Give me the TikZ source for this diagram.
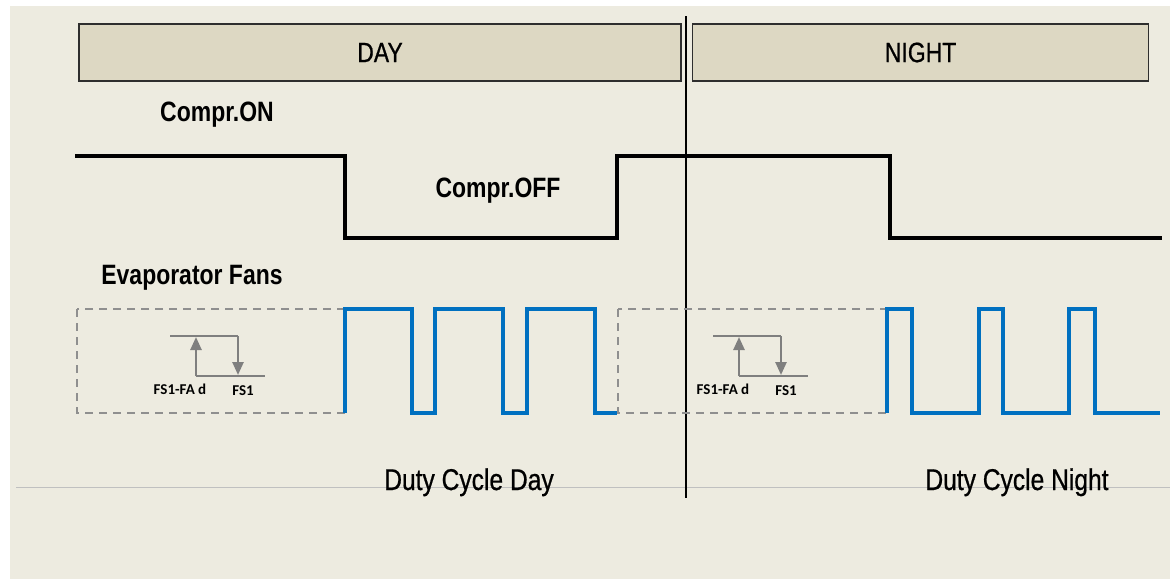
\documentclass[tikz,border=0pt]{standalone}
\usepackage{fontspec}
\setmainfont{Liberation Sans}[FakeStretch=0.82]
\newfontfamily\capfont{Liberation Sans}[FakeStretch=0.82, FakeBold=0.7]
\newfontfamily\tagfont{Carlito}
\usepackage{tikz}
\usetikzlibrary{positioning, arrows.meta}
\definecolor{cBack}{HTML}{EDEBE0}
\definecolor{cHeader}{HTML}{DDD8C3}
\definecolor{cFrame}{HTML}{2E2E2E}
\definecolor{cFan}{HTML}{0070C0}
\definecolor{cDash}{HTML}{8F8F8F}
\definecolor{cHyst}{HTML}{7F7F7F}
\definecolor{cRule}{HTML}{C0C0C0}
\tikzset{
  header/.style={
    rectangle, draw=cFrame, line width=1.6pt, fill=cHeader,
    minimum height=57pt, inner sep=0pt,
    font=\capfont\fontsize{28}{32}\selectfont
  },
  title/.style={anchor=base, inner sep=0pt, font=\fontsize{28}{32}\selectfont\bfseries},
  caption/.style={anchor=base, inner sep=0pt, font=\capfont\fontsize{30}{34}\selectfont},
  tag/.style={anchor=base, inner sep=0pt, font=\tagfont\fontsize{15}{17}\selectfont\bfseries},
  compr/.style={line width=4pt, line join=miter, black},
  fan/.style={line width=4pt, line join=miter, cFan},
  fanbox/.style={draw=cDash, line width=2.2pt, dash pattern=on 8pt off 6pt},
  hyst/.style={cHyst, line width=2.5pt},
  hystarrow/.style={hyst, -{Triangle[length=13pt,width=11pt]}},
}
\begin{document}
\begin{tikzpicture}[x=1pt, y=-1pt]

  \useasboundingbox (0,0) rectangle (1170,579);
  \fill[white] (0,0) rectangle (1170,579);
  \fill[cBack] (10,6) rectangle (1170,579);

  % baseline rule
  \draw[cRule, line width=1pt] (16,487) -- (1170,487);

  \node[header, minimum width=602pt] (day) at (380,52.5) {DAY};
  \node[header, minimum width=456pt, right=10pt of day] (night) {NIGHT};

  \coordinate (splitTop) at (686,16);
  \coordinate (splitBot) at (686,498);
  \draw[black, line width=1.6pt] (splitTop) -- (splitBot);

  \node[title] (comprOn)  at (217,121) {Compr.ON};
  \node[title] (comprOff) at (498,197) {Compr.OFF};
  \node[title] (fans)     at (192,284) {Evaporator Fans};

  \node[caption] (dutyDay)   at (469,490) {Duty Cycle Day};
  \node[caption] (dutyNight) at (1017,490) {Duty Cycle Night};

  % compressor
  \draw[compr] (75,156) -- (345,156) -- (345,238) -- (617,238) -- (617,156)
    -- (890,156) -- (890,238) -- (1162,238);

  % regulation boxes
  \draw[fanbox] (77,309) rectangle (345,413);
  \draw[fanbox] (618,309) rectangle (887,413);

  % fans day / night
  \draw[fan] (345,413) -- (345,309) -- (412,309) -- (412,413) -- (435,413)
    -- (435,309) -- (503,309) -- (503,413) -- (527,413) -- (527,309)
    -- (595,309) -- (595,413) -- (617,413);
  \draw[fan] (887,413) -- (887,309) -- (912,309) -- (912,413) -- (979,413)
    -- (979,309) -- (1003,309) -- (1003,413) -- (1069,413) -- (1069,309)
    -- (1095,309) -- (1095,413) -- (1160,413);

  % hysteresis
  \foreach \dx in {0,543} {
    \begin{scope}[xshift=\dx pt]
      \draw[hyst] (170,336) -- (238,336);
      \draw[hyst] (196,376) -- (265,376);
      \draw[hystarrow] (196,376) -- (196,337);
      \draw[hystarrow] (238,336) -- (238,375);
      \node[tag] at (180,394) {FS1-FA d};
      \node[tag] at (243,395) {FS1};
    \end{scope}
  }

\end{tikzpicture}
\end{document}
